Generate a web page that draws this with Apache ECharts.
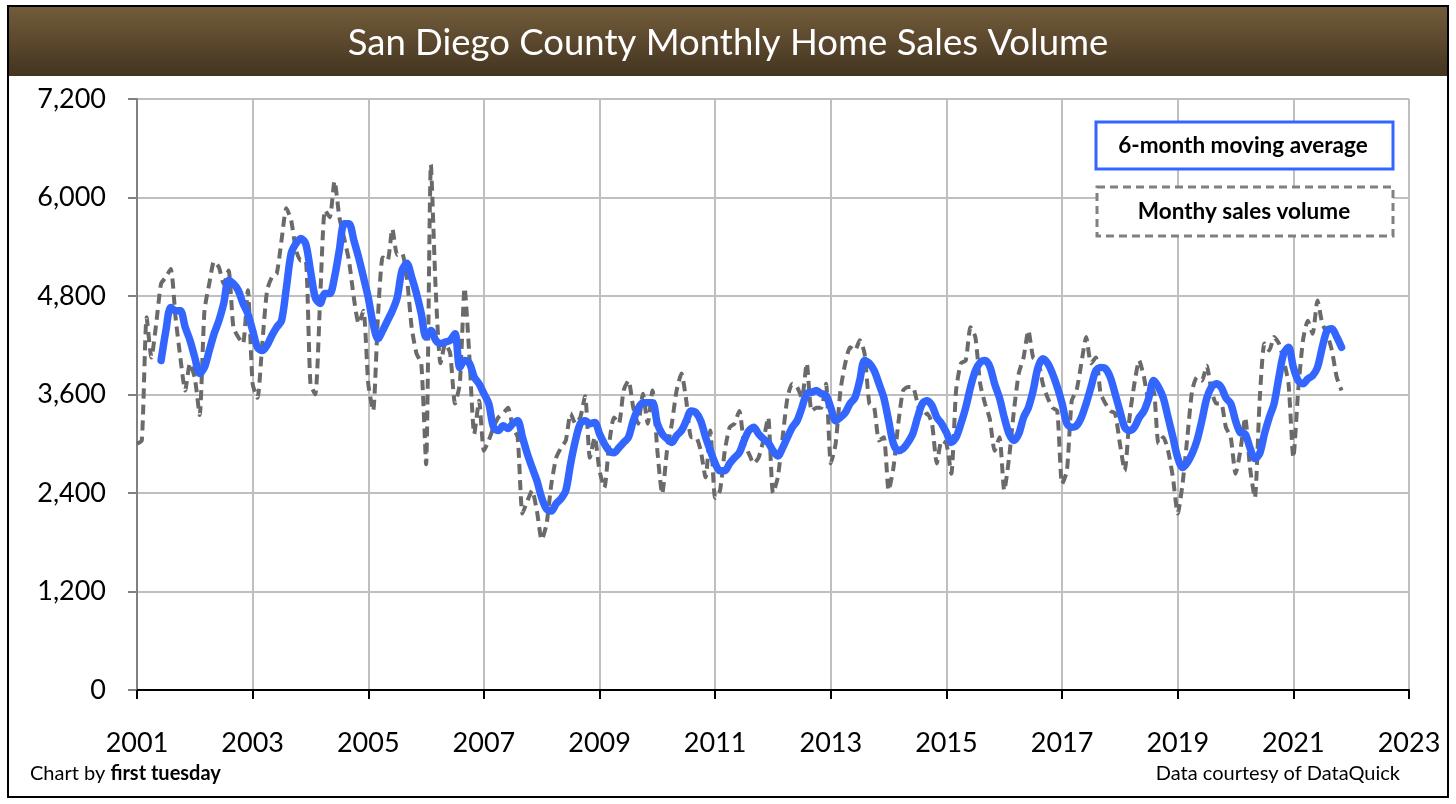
<!DOCTYPE html>
<html>
<head>
<meta charset="utf-8">
<script src="https://cdn.jsdelivr.net/npm/echarts@6/dist/echarts.min.js"></script>
<style>
html,body{margin:0;padding:0;background:#fff;}
#chart{width:1456px;height:804px;}
</style>
</head>
<body>
<div id="chart"></div>
<script>
// ---- Data (monthly, starting January 2001) ----
const startYear = 2001;
const chartTitle = 'San Diego County Monthly Home Sales Volume';
const seriesNames = ['6-month moving average', 'Monthy sales volume'];
const xTickYears = [2001, 2003, 2005, 2007, 2009, 2011, 2013, 2015, 2017, 2019, 2021, 2023];
const yTicks = [0, 1200, 2400, 3600, 4800, 6000, 7200];

// Monthly sales volume (Jan 2001 - Nov 2021)
const salesVolume = [
  3000,3040,4540,4050,4470,4950,5030,5130,4540,4050,3650,3980,   // 2001
  3800,3350,4620,4950,5220,5150,4950,5110,4420,4300,4220,4870,   // 2002
  3730,3560,4220,4870,5030,5075,5480,5870,5720,5360,5230,5230,   // 2003
  3730,3600,4745,5845,5760,6200,5760,5500,5230,4780,4465,4620,   // 2004
  3730,3400,4540,5270,5230,5620,5300,5320,5030,4420,4100,3980,   // 2005
  2750,6400,4870,3980,4220,4100,3490,3730,4900,4050,3120,3525,   // 2006
  2915,3040,3200,3320,3370,3440,3200,3080,2150,2300,2430,2180,   // 2007
  1830,2020,2510,2830,2950,3040,3370,3245,3320,3580,2830,3080,   // 2008
  2670,2465,3000,3320,3245,3650,3770,3440,3245,3610,3245,3650,   // 2009
  2915,2390,2915,3245,3650,3855,3525,3080,3080,2915,2590,3160,   // 2010
  2340,2430,2915,3200,3245,3400,3000,2880,2760,2830,3040,3320,   // 2011
  2400,2590,3080,3560,3730,3690,3560,3980,3400,3440,3440,3730,   // 2012
  2760,3000,3650,3980,4175,4135,4260,4100,3490,3440,3040,3080,   // 2013
  2430,2710,3245,3650,3690,3690,3490,3320,3370,3245,2760,3040,   // 2014
  3000,2635,3650,3980,4015,4420,4300,3730,3490,3300,2915,3080,   // 2015
  2430,2830,3400,3855,4050,4380,4050,4015,3730,3560,3440,3400,   // 2016
  2510,2670,3525,3650,3980,4300,3980,4050,3610,3490,3400,3370,   // 2017
  3000,2670,3320,3730,4015,3810,3525,3650,3000,3080,2915,2590,   // 2018
  2150,2510,3080,3650,3810,3770,3950,3650,3490,3490,3200,3080,   // 2019
  2635,2915,3320,2710,2340,3525,4220,4135,4300,4220,4015,3730,   // 2020
  2830,3650,4260,4500,4340,4745,4465,4340,4135,3810,3650         // 2021
];

// 6-month moving average as drawn (first value in June 2001)
const movingAverage = [
  null,null,null,null,null,4015,4380,4660,4620,4620,4420,4260,   // 2001
  4050,3855,3930,4135,4340,4500,4710,4990,4950,4870,4710,4585,   // 2002
  4380,4175,4135,4200,4320,4420,4500,4900,5320,5440,5500,5440,   // 2003
  5110,4780,4710,4830,4830,5030,5360,5680,5680,5480,5270,5030,   // 2004
  4780,4465,4280,4380,4500,4620,4780,5110,5200,5030,4830,4585,   // 2005
  4300,4380,4260,4220,4240,4260,4340,3930,4015,3980,3810,3730,   // 2006
  3610,3490,3200,3160,3220,3185,3245,3280,3080,2880,2710,2550,   // 2007
  2340,2205,2180,2270,2330,2430,2760,3040,3245,3280,3245,3260,   // 2008
  3120,3000,2915,2890,2950,3015,3080,3280,3430,3500,3500,3500,   // 2009
  3245,3120,3060,3015,3100,3160,3280,3400,3380,3280,3080,2915,   // 2010
  2760,2670,2670,2760,2830,2890,3040,3160,3200,3120,3060,3015,   // 2011
  2915,2850,2950,3080,3200,3280,3440,3610,3625,3650,3610,3590,   // 2012
  3440,3280,3320,3380,3490,3560,3770,4015,3980,3890,3730,3560,   // 2013
  3280,3000,2915,2940,3015,3120,3320,3490,3525,3465,3320,3245,   // 2014
  3135,3015,3080,3245,3440,3690,3890,3990,4015,3940,3730,3560,   // 2015
  3320,3120,3040,3120,3320,3440,3650,3930,4035,3980,3855,3690,   // 2016
  3490,3245,3200,3220,3320,3490,3690,3890,3930,3915,3810,3610,   // 2017
  3400,3200,3160,3200,3320,3400,3560,3770,3690,3560,3320,3080,   // 2018
  2830,2710,2770,2880,3040,3280,3550,3690,3730,3690,3560,3490,   // 2019
  3280,3135,3120,2950,2820,2880,3120,3320,3490,3810,4100,4175,   // 2020
  3930,3770,3730,3790,3830,3930,4175,4380,4400,4300,4175         // 2021
];

// ---- Build data pairs (x = fractional year) ----
function toPairs(arr) {
  const out = [];
  arr.forEach(function (v, i) {
    if (v !== null) out.push([startYear + i / 12, v]);
  });
  return out;
}

const FONT = 'Lato';
const chart = echarts.init(document.getElementById('chart'), null, { renderer: 'canvas' });

const option = {
  backgroundColor: '#ffffff',
  animation: false,
  grid: { left: 137, right: 47, top: 99, bottom: 114, containLabel: false },
  xAxis: {
    type: 'value',
    min: xTickYears[0],
    max: xTickYears[xTickYears.length - 1],
    interval: 2,
    axisLine: { show: true, onZero: false, lineStyle: { color: '#000000', width: 2 } },
    axisTick: { show: true, length: 9, lineStyle: { color: '#000000', width: 2 } },
    axisLabel: {
      margin: 40,
      color: '#000000',
      fontFamily: FONT,
      fontSize: 27,
      formatter: function (v) { return String(Math.round(v)); }
    },
    splitLine: { show: true, lineStyle: { color: '#bfbfbf', width: 2 } }
  },
  yAxis: {
    type: 'value',
    min: yTicks[0],
    max: yTicks[yTicks.length - 1],
    interval: 1200,
    axisLine: { show: true, lineStyle: { color: '#808080', width: 2 } },
    axisTick: { show: true, length: 9, lineStyle: { color: '#808080', width: 2 } },
    axisLabel: {
      margin: 31,
      color: '#000000',
      fontFamily: FONT,
      fontSize: 27,
      formatter: function (v) { return v.toLocaleString('en-US'); }
    },
    splitLine: { show: true, lineStyle: { color: '#bfbfbf', width: 2 } }
  },
  series: [
    {
      name: seriesNames[1],
      type: 'line',
      data: toPairs(salesVolume),
      showSymbol: false,
      smooth: 0.2,
      lineStyle: { color: '#6a6a6a', width: 4, type: [10, 6] },
      z: 2
    },
    {
      name: seriesNames[0],
      type: 'line',
      data: toPairs(movingAverage),
      showSymbol: false,
      smooth: 0.3,
      lineStyle: { color: '#3366ff', width: 7.5, cap: 'round', join: 'round' },
      z: 3
    }
  ],
  graphic: [
    {
      type: 'rect', z: 10,
      shape: { x: 8, y: 6, width: 1440, height: 70 },
      style: {
        fill: new echarts.graphic.LinearGradient(0, 0, 0, 1, [
          { offset: 0, color: '#735c3b' },
          { offset: 1, color: '#433420' }
        ])
      }
    },
    {
      type: 'text', z: 11,
      x: 728, y: 43,
      style: {
        text: chartTitle, fill: '#ffffff', fontFamily: FONT, fontSize: 36.5,
        align: 'center', verticalAlign: 'middle'
      }
    },
    {
      type: 'rect', z: 20,
      shape: { x: 8, y: 6, width: 1440, height: 791 },
      style: { fill: 'none', stroke: '#000000', lineWidth: 2 }
    },
    {
      type: 'rect', z: 10,
      shape: { x: 1096, y: 122, width: 297, height: 47 },
      style: { fill: '#ffffff', stroke: '#3366ff', lineWidth: 3 }
    },
    {
      type: 'text', z: 11,
      x: 1243, y: 146,
      style: {
        text: seriesNames[0], fill: '#000000', fontFamily: FONT, fontWeight: 'bold', fontSize: 22.5,
        align: 'center', verticalAlign: 'middle'
      }
    },
    {
      type: 'rect', z: 10,
      shape: { x: 1097, y: 187, width: 296, height: 49 },
      style: { fill: '#ffffff', stroke: '#808080', lineWidth: 3, lineDash: [8, 5] }
    },
    {
      type: 'text', z: 11,
      x: 1244, y: 212,
      style: {
        text: seriesNames[1], fill: '#000000', fontFamily: FONT, fontWeight: 'bold', fontSize: 22.5,
        align: 'center', verticalAlign: 'middle'
      }
    },
    {
      type: 'text', z: 11,
      x: 30, y: 774,
      style: {
        text: '{n|Chart by }{b|first tuesday}',
        verticalAlign: 'middle',
        rich: {
          n: { fontFamily: FONT, fontSize: 20, fill: '#000000', fontWeight: 'normal' },
          b: { fontFamily: FONT, fontSize: 20, fill: '#000000', fontWeight: 'bold' }
        }
      }
    },
    {
      type: 'text', z: 11,
      x: 1400, y: 774,
      style: {
        text: 'Data courtesy of DataQuick', fill: '#000000', fontFamily: FONT, fontSize: 20,
        align: 'right', verticalAlign: 'middle'
      }
    }
  ]
};

chart.setOption(option);
</script>
</body>
</html>
